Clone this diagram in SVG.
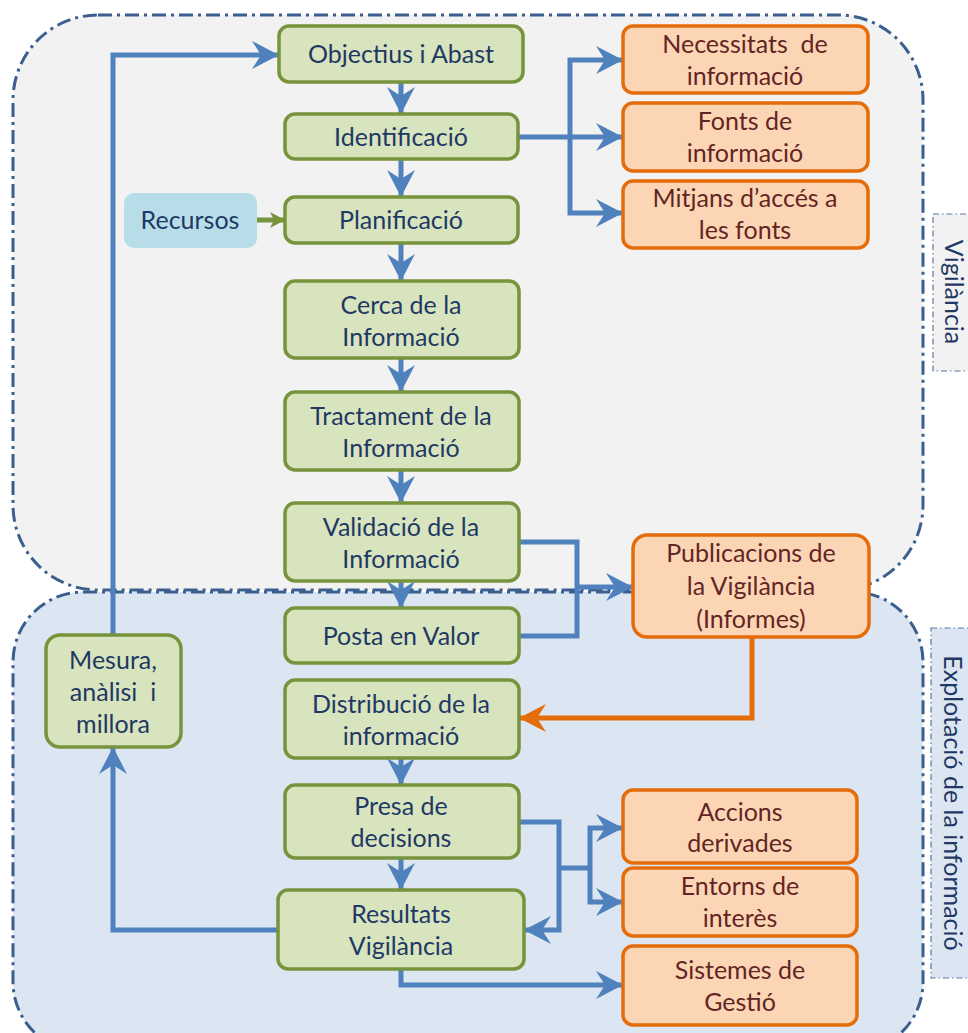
<svg xmlns="http://www.w3.org/2000/svg" width="968" height="1033" viewBox="0 0 968 1033">
<defs>
<style>
.region{stroke:#3a5f8f;stroke-width:3;stroke-dasharray:14 5 3 5}
.tab{stroke:#5a7aa0;stroke-width:1.2;stroke-dasharray:6 3 1.5 3}
.tabtxt{font-family:Lato,"Open Sans",sans-serif;fill:#1f3864;text-anchor:middle;writing-mode:vertical-rl}
.gn rect{fill:#d7e4bd;stroke:#77933c;stroke-width:3.5}
.on rect{fill:#fcd5b5;stroke:#e46c0a;stroke-width:3.5}
.bn rect{fill:#b7dee8}
text{font-family:Lato,"Open Sans",sans-serif;font-size:25px;text-anchor:middle}
.pre{white-space:pre}
.gn text,.bn text{fill:#1f3864}
.on text{fill:#632523}
.c{fill:none;stroke:#4f81bd;stroke-width:5;stroke-linejoin:miter}
.co{fill:none;stroke:#e46c0a;stroke-width:5}
.cg{fill:none;stroke:#77933c;stroke-width:5}
</style>
<marker id="ab" markerUnits="userSpaceOnUse" markerWidth="28" markerHeight="28" refX="27" refY="14" orient="auto" viewBox="0 0 28 28"><path d="M0,0 L27,14 L0,28 L9,14 z" fill="#4f81bd"/></marker>
<marker id="ao" markerUnits="userSpaceOnUse" markerWidth="28" markerHeight="28" refX="27" refY="14" orient="auto" viewBox="0 0 28 28"><path d="M0,0 L27,14 L0,28 L9,14 z" fill="#e46c0a"/></marker>
<marker id="ag" markerUnits="userSpaceOnUse" markerWidth="16" markerHeight="16" refX="15" refY="8" orient="auto" viewBox="0 0 16 16"><path d="M0,0 L15,8 L0,16 L4,8 z" fill="#77933c"/></marker>
</defs>
<rect width="968" height="1033" fill="#ffffff"/>
<g id="region-vigilancia">
<rect class="region" x="13" y="15" width="910" height="575" rx="85" ry="85" fill="#f2f2f2"/>
</g>
<g id="region-explotacio">
<rect class="region" x="13" y="592" width="910" height="460" rx="70" ry="70" fill="#dce6f2"/>
</g>
<g id="tab-vigilancia">
<rect class="tab" x="933" y="214" width="50" height="157" fill="#f2f2f2"/>
<text class="tabtxt" x="955" y="292" font-size="20">Vigilància</text>
</g>
<g id="tab-explotacio">
<rect class="tab" x="931" y="628" width="50" height="350" fill="#dce6f2"/>
<text class="tabtxt" x="954" y="803" font-size="21">Explotació de la informació</text>
</g>
<g id="connectors">
<path class="c" d="M113,635 V55 H279" marker-end="url(#ab)"/>
<path class="c" d="M278,930 H113 V747" marker-end="url(#ab)"/>
<path class="c" d="M401,82 V114" marker-end="url(#ab)"/>
<path class="c" d="M401,159 V197" marker-end="url(#ab)"/>
<path class="c" d="M401,243 V281" marker-end="url(#ab)"/>
<path class="c" d="M401,358 V392" marker-end="url(#ab)"/>
<path class="c" d="M401,470 V503" marker-end="url(#ab)"/>
<path class="c" d="M401,581 V608" marker-end="url(#ab)"/>
<path class="c" d="M401,758 V785" marker-end="url(#ab)"/>
<path class="c" d="M401,858 V890" marker-end="url(#ab)"/>
<path class="c" d="M518,137 H623" marker-end="url(#ab)"/>
<path class="c" d="M570,137 V60 H623" marker-end="url(#ab)"/>
<path class="c" d="M570,137 V213 H623" marker-end="url(#ab)"/>
<path class="c" d="M519,542 H577 V636 H519"/>
<path class="c" d="M577,587 H633" marker-end="url(#ab)"/>
<path class="co" d="M752,637 V718 H519" marker-end="url(#ao)"/>
<path class="c" d="M519,822 H559 V930 H524" marker-end="url(#ab)"/>
<path class="c" d="M559,868 H590"/>
<path class="c" d="M590,868 V828 H623" marker-end="url(#ab)"/>
<path class="c" d="M590,868 V902 H623" marker-end="url(#ab)"/>
<path class="c" d="M401,969 V985 H623" marker-end="url(#ab)"/>
<path class="cg" d="M257,220 H285" marker-end="url(#ag)"/>
</g>
<g id="n-objectius" class="gn"><rect x="279" y="26" width="244" height="56" rx="10"/><text x="401" y="63">Objectius i Abast</text></g>
<g id="n-identificacio" class="gn"><rect x="285" y="114" width="233" height="45" rx="10"/><text x="401" y="146">Identificació</text></g>
<g id="n-recursos" class="bn"><rect x="124" y="193" width="133" height="55" rx="10"/><text x="190" y="229">Recursos</text></g>
<g id="n-planificacio" class="gn"><rect x="285" y="197" width="233" height="46" rx="10"/><text x="401" y="229">Planificació</text></g>
<g id="n-cerca" class="gn"><rect x="285" y="281" width="234" height="77" rx="10"/><text x="401" y="314">Cerca de la</text><text x="401" y="346">Informació</text></g>
<g id="n-tractament" class="gn"><rect x="285" y="392" width="234" height="78" rx="10"/><text x="401" y="425">Tractament de la</text><text x="401" y="457">Informació</text></g>
<g id="n-validacio" class="gn"><rect x="285" y="503" width="234" height="78" rx="10"/><text x="401" y="536">Validació de la</text><text x="401" y="568">Informació</text></g>
<g id="n-posta" class="gn"><rect x="285" y="608" width="234" height="55" rx="10"/><text x="401" y="645">Posta en Valor</text></g>
<g id="n-distribucio" class="gn"><rect x="285" y="680" width="234" height="78" rx="10"/><text x="401" y="713">Distribució de la</text><text x="401" y="745">informació</text></g>
<g id="n-presa" class="gn"><rect x="285" y="785" width="234" height="73" rx="10"/><text x="401" y="815">Presa de</text><text x="401" y="847">decisions</text></g>
<g id="n-resultats" class="gn"><rect x="278" y="890" width="246" height="79" rx="10"/><text x="401" y="923">Resultats</text><text x="401" y="955">Vigilància</text></g>
<g id="n-mesura" class="gn"><rect x="46" y="635" width="135" height="112" rx="14"/><text x="113" y="669">Mesura,</text><text class="pre" x="113" y="701">anàlisi  i</text><text x="113" y="733">millora</text></g>
<g id="n-necessitats" class="on"><rect x="623" y="26" width="245" height="67" rx="10"/><text class="pre" x="745" y="53">Necessitats  de</text><text x="745" y="85">informació</text></g>
<g id="n-fonts" class="on"><rect x="623" y="103" width="245" height="68" rx="10"/><text x="745" y="130">Fonts de</text><text x="745" y="162">informació</text></g>
<g id="n-mitjans" class="on"><rect x="623" y="181" width="245" height="67" rx="10"/><text x="745" y="207">Mitjans d’accés a</text><text x="745" y="239">les fonts</text></g>
<g id="n-publicacions" class="on"><rect x="633" y="535" width="236" height="102" rx="14"/><text x="751" y="562">Publicacions de</text><text x="751" y="595">la Vigilància</text><text x="751" y="628">(Informes)</text></g>
<g id="n-accions" class="on"><rect x="623" y="790" width="234" height="73" rx="10"/><text x="740" y="821">Accions</text><text x="740" y="852">derivades</text></g>
<g id="n-entorns" class="on"><rect x="623" y="868" width="234" height="68" rx="10"/><text x="740" y="895">Entorns de</text><text x="740" y="927">interès</text></g>
<g id="n-sistemes" class="on"><rect x="623" y="946" width="234" height="79" rx="10"/><text x="740" y="979">Sistemes de</text><text x="740" y="1011">Gestió</text></g>
</svg>
